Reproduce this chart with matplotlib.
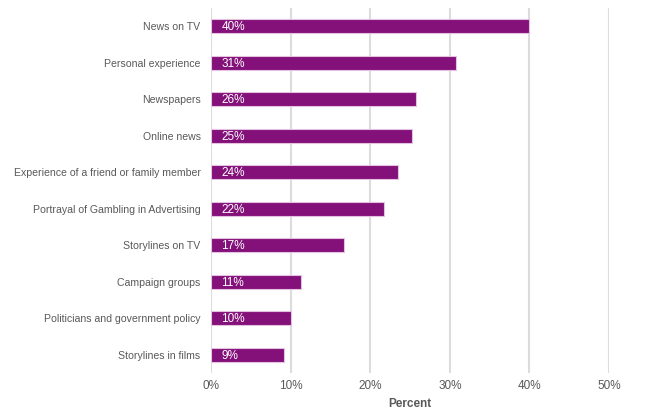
import matplotlib
matplotlib.use('Agg')
import matplotlib.pyplot as plt

plt.rcParams['font.family'] = ['Liberation Sans', 'DejaVu Sans']

categorii = ['News on TV', 'Personal experience', 'Newspapers', 'Online news',
             'Experience of a friend or family member',
             'Portrayal of Gambling in Advertising', 'Storylines on TV',
             'Campaign groups', 'Politicians and government policy',
             'Storylines in films']
valori = [39.9, 30.8, 25.7, 25.25, 23.5, 21.7, 16.7, 11.3, 10.1, 9.2]
etichete = ['40%', '31%', '26%', '25%', '24%', '22%', '17%', '11%', '10%', '9%']
x_ticks = [0, 10, 20, 30, 40, 50]

fig = plt.figure(figsize=(6.45, 4.15), dpi=100)
ax = fig.add_axes([211 / 645, 1 - 373 / 415, (609 - 211) / 645, 365 / 415])

y = range(len(categorii))
ax.barh(y, valori, height=0.38, color='#84107a', edgecolor='#e2c2de', linewidth=0.8, zorder=3)
for i, (v, t) in enumerate(zip(valori, etichete)):
    ax.text(1.3, i + 0.03, t, color='white', fontsize=8.5, ha='left', va='center', zorder=4)

ax.set_ylim(len(categorii) - 0.5, -0.5)
ax.set_xlim(0, 50)
ax.set_yticks(list(y))
ax.set_yticklabels(categorii, fontsize=7.6, color='#595959')
ax.set_xticks(x_ticks)
ax.set_xticklabels([f'{t}%' for t in x_ticks], fontsize=8.5, color='#595959')
ax.tick_params(axis='both', length=0)
ax.tick_params(axis='y', pad=7.5)
ax.tick_params(axis='x', pad=5)
ax.grid(axis='x', color='#dcdcdc', linewidth=1.5, zorder=0)
for s in ax.spines.values():
    s.set_visible(False)
ax.set_xlabel('Percent', fontsize=8.5, fontweight='bold', color='#595959', labelpad=4)

fig.savefig('out.png', dpi=100)
